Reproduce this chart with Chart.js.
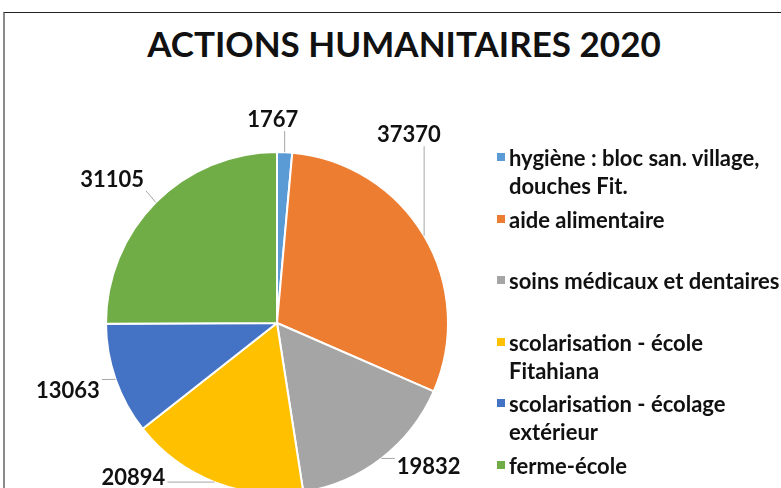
<!DOCTYPE html>
<html lang="fr">
<head>
    <meta charset="UTF-8">
    <title>Actions humanitaires 2020</title>
    <script src="https://cdn.jsdelivr.net/npm/chart.js"></script>
    <style>
        html, body {
            margin: 0;
            padding: 0;
            width: 781px;
            height: 488px;
            overflow: hidden;
            background: #fff;
            font-family: Lato, sans-serif;
        }
        .cadre {
            position: absolute;
            left: 3px;
            top: 12px;
            width: 1000px;
            height: 1000px;
            border-top: 1px solid #222;
            border-left: 2px solid #8a8a8a;
        }
        .titre {
            position: absolute;
            left: 0;
            width: 808px;
            top: 20px;
            text-align: center;
            font-weight: bold;
            font-size: 35px;
            line-height: 46px;
            color: #111;
        }
        #graphe {
            position: absolute;
            left: 0;
            top: 0;
        }
        .legende {
            position: absolute;
            left: 497px;
            top: 144px;
            width: 284px;
        }
        .item {
            position: relative;
            height: 61.5px;
            padding-left: 12px;
            font-weight: bold;
            font-size: 22px;
            line-height: 28px;
            color: #111;
        }
        .item span.carre {
            position: absolute;
            left: 0;
            top: 9px;
            width: 8px;
            height: 8px;
        }
    </style>
</head>
<body>

<div class="cadre"></div>
<div class="titre">ACTIONS HUMANITAIRES 2020</div>
<canvas id="graphe" width="781" height="540"></canvas>
<div class="legende" id="legende"></div>

<script>
    // Données du graphique
    const categories = [
        'hygiène : bloc san. village, douches Fit.',
        'aide alimentaire',
        'soins médicaux et dentaires',
        'scolarisation - école Fitahiana',
        'scolarisation - écolage extérieur',
        'ferme-école'
    ];
    const montants = [1767, 37370, 19832, 20894, 13063, 31105];
    const couleurs = ['#5B9BD5', '#ED7D31', '#A5A5A5', '#FFC000', '#4472C4', '#70AD47'];

    // Décalage des étiquettes (comme Excel les a déplacées)
    const decalages = [[-14, 14], [-55, -77], [19, -28], [-64, -47], [-4, -4], [-11, 10]];

    // Légende HTML
    const legende = document.getElementById('legende');
    categories.forEach(function (nom, i) {
        const div = document.createElement('div');
        div.className = 'item';
        div.innerHTML = '<span class="carre" style="background:' + couleurs[i] + '"></span>' + nom;
        legende.appendChild(div);
    });

    // Étiquettes de valeurs avec lignes de rappel
    const etiquettes = {
        id: 'etiquettes',
        afterDatasetsDraw(chart) {
            const ctx = chart.ctx;
            const meta = chart.getDatasetMeta(0);
            ctx.save();
            ctx.font = 'bold 22px Lato';
            ctx.textAlign = 'center';
            ctx.textBaseline = 'middle';
            meta.data.forEach(function (arc, i) {
                const p = arc.getProps(['x', 'y', 'startAngle', 'endAngle', 'outerRadius'], true);
                const milieu = (p.startAngle + p.endAngle) / 2;
                const dx = Math.cos(milieu), dy = Math.sin(milieu);
                const tx = p.x + dx * p.outerRadius * 1.27 + decalages[i][0];
                const ty = p.y + dy * p.outerRadius * 1.27 + decalages[i][1];
                const texte = String(chart.data.datasets[0].data[i]);
                const w = ctx.measureText(texte).width;
                const h = 18;
                // point sur le bord de la part
                const px = p.x + dx * p.outerRadius;
                const py = p.y + dy * p.outerRadius;
                const qx = Math.min(Math.max(px, tx - w / 2 - 2), tx + w / 2 + 2);
                const qy = Math.min(Math.max(py, ty - h / 2 - 2), ty + h / 2 + 2);
                if (Math.hypot(px - qx, py - qy) > 5) {
                    ctx.strokeStyle = '#A6A6A6';
                    ctx.lineWidth = 1;
                    ctx.beginPath();
                    ctx.moveTo(px, py);
                    ctx.lineTo(qx, qy);
                    ctx.stroke();
                }
                ctx.fillStyle = '#111';
                ctx.fillText(texte, tx, ty);
            });
            ctx.restore();
        }
    };

    new Chart(document.getElementById('graphe'), {
        type: 'pie',
        data: {
            labels: categories,
            datasets: [{
                data: montants,
                backgroundColor: couleurs,
                borderColor: '#fff',
                borderWidth: 2
            }]
        },
        options: {
            responsive: false,
            animation: false,
            layout: {
                padding: { left: 105, top: 151, right: 332, bottom: 45 }
            },
            plugins: {
                legend: { display: false },
                tooltip: { enabled: false }
            }
        },
        plugins: [etiquettes]
    });
</script>

</body>
</html>
